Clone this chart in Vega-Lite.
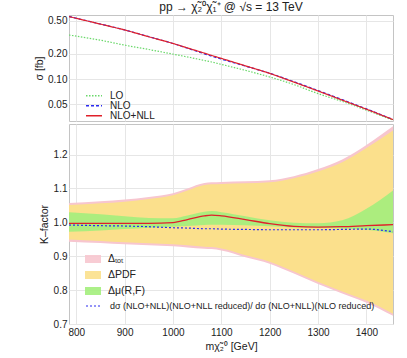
{
  "$schema": "https://vega.github.io/schema/vega-lite/v6.json",
  "padding": {"left": 34, "top": 0, "right": 14, "bottom": 5},
  "background": "white",
  "spacing": 1,
  "resolve": {"scale": {"color": "independent", "strokeDash": "independent", "stroke": "independent"}, "legend": {"color": "independent", "strokeDash": "independent", "stroke": "independent"}},
  "config": {
    "font": "Liberation Sans",
    "view": {"stroke": "#c4c4c4", "strokeWidth": 1},
    "axis": {"labelFontSize": 10, "titleFontSize": 10.5, "titleFontWeight": "normal", "labelColor": "#222", "titleColor": "#222", "gridColor": "#e6e6e6", "domain": false, "ticks": false, "labelPadding": 2, "labelOverlap": false},
    "legend": {"labelFont": "Liberation Sans", "labelFontSize": 10.5, "labelColor": "#222"}
  },
  "datasets": {
    "sigma": [
      {"m": 785, "series": "LO", "sigma": 0.337}, {"m": 850, "series": "LO", "sigma": 0.292}, {"m": 900, "series": "LO", "sigma": 0.255}, {"m": 950, "series": "LO", "sigma": 0.226}, {"m": 1000, "series": "LO", "sigma": 0.199}, {"m": 1030, "series": "LO", "sigma": 0.184}, {"m": 1065, "series": "LO", "sigma": 0.167}, {"m": 1080, "series": "LO", "sigma": 0.160}, {"m": 1100, "series": "LO", "sigma": 0.150}, {"m": 1150, "series": "LO", "sigma": 0.127}, {"m": 1200, "series": "LO", "sigma": 0.106}, {"m": 1250, "series": "LO", "sigma": 0.086}, {"m": 1300, "series": "LO", "sigma": 0.067}, {"m": 1350, "series": "LO", "sigma": 0.054}, {"m": 1400, "series": "LO", "sigma": 0.0425}, {"m": 1455, "series": "LO", "sigma": 0.0322},
      {"m": 785, "series": "NLO", "sigma": 0.562}, {"m": 850, "series": "NLO", "sigma": 0.456}, {"m": 900, "series": "NLO", "sigma": 0.388}, {"m": 950, "series": "NLO", "sigma": 0.322}, {"m": 1000, "series": "NLO", "sigma": 0.267}, {"m": 1030, "series": "NLO", "sigma": 0.234}, {"m": 1065, "series": "NLO", "sigma": 0.2007}, {"m": 1080, "series": "NLO", "sigma": 0.188}, {"m": 1100, "series": "NLO", "sigma": 0.1737}, {"m": 1150, "series": "NLO", "sigma": 0.1429}, {"m": 1200, "series": "NLO", "sigma": 0.1175}, {"m": 1250, "series": "NLO", "sigma": 0.0931}, {"m": 1300, "series": "NLO", "sigma": 0.073}, {"m": 1350, "series": "NLO", "sigma": 0.0567}, {"m": 1400, "series": "NLO", "sigma": 0.044}, {"m": 1455, "series": "NLO", "sigma": 0.0329},
      {"m": 785, "series": "NLO+NLL", "sigma": 0.56}, {"m": 850, "series": "NLO+NLL", "sigma": 0.455}, {"m": 900, "series": "NLO+NLL", "sigma": 0.387}, {"m": 950, "series": "NLO+NLL", "sigma": 0.321}, {"m": 1000, "series": "NLO+NLL", "sigma": 0.267}, {"m": 1030, "series": "NLO+NLL", "sigma": 0.236}, {"m": 1065, "series": "NLO+NLL", "sigma": 0.2045}, {"m": 1080, "series": "NLO+NLL", "sigma": 0.192}, {"m": 1100, "series": "NLO+NLL", "sigma": 0.177}, {"m": 1150, "series": "NLO+NLL", "sigma": 0.144}, {"m": 1200, "series": "NLO+NLL", "sigma": 0.117}, {"m": 1250, "series": "NLO+NLL", "sigma": 0.092}, {"m": 1300, "series": "NLO+NLL", "sigma": 0.072}, {"m": 1350, "series": "NLO+NLL", "sigma": 0.056}, {"m": 1400, "series": "NLO+NLL", "sigma": 0.0436}, {"m": 1455, "series": "NLO+NLL", "sigma": 0.0327}
    ],
    "k": [
      {"m": 785, "tot_lo": 0.943, "tot_hi": 1.057, "pdf_lo": 0.949, "pdf_hi": 1.051, "mu_lo": 0.972, "mu_hi": 1.030, "k": 0.997, "r": 0.992},
      {"m": 850, "tot_lo": 0.939, "tot_hi": 1.062, "pdf_lo": 0.945, "pdf_hi": 1.056, "mu_lo": 0.976, "mu_hi": 1.024, "k": 0.997, "r": 0.990},
      {"m": 900, "tot_lo": 0.935, "tot_hi": 1.067, "pdf_lo": 0.941, "pdf_hi": 1.061, "mu_lo": 0.980, "mu_hi": 1.018, "k": 0.997, "r": 0.989},
      {"m": 950, "tot_lo": 0.932, "tot_hi": 1.075, "pdf_lo": 0.938, "pdf_hi": 1.069, "mu_lo": 0.984, "mu_hi": 1.013, "k": 0.997, "r": 0.987},
      {"m": 1000, "tot_lo": 0.929, "tot_hi": 1.086, "pdf_lo": 0.935, "pdf_hi": 1.080, "mu_lo": 0.987, "mu_hi": 1.012, "k": 0.999, "r": 0.984},
      {"m": 1030, "tot_lo": 0.926, "tot_hi": 1.100, "pdf_lo": 0.932, "pdf_hi": 1.094, "mu_lo": 0.989, "mu_hi": 1.020, "k": 1.008, "r": 0.983},
      {"m": 1065, "tot_lo": 0.922, "tot_hi": 1.116, "pdf_lo": 0.928, "pdf_hi": 1.110, "mu_lo": 0.992, "mu_hi": 1.031, "k": 1.019, "r": 0.981},
      {"m": 1080, "tot_lo": 0.921, "tot_hi": 1.118, "pdf_lo": 0.927, "pdf_hi": 1.112, "mu_lo": 0.993, "mu_hi": 1.033, "k": 1.021, "r": 0.981},
      {"m": 1100, "tot_lo": 0.917, "tot_hi": 1.119, "pdf_lo": 0.923, "pdf_hi": 1.113, "mu_lo": 0.993, "mu_hi": 1.030, "k": 1.019, "r": 0.980},
      {"m": 1150, "tot_lo": 0.897, "tot_hi": 1.121, "pdf_lo": 0.903, "pdf_hi": 1.115, "mu_lo": 0.991, "mu_hi": 1.018, "k": 1.008, "r": 0.979},
      {"m": 1200, "tot_lo": 0.878, "tot_hi": 1.124, "pdf_lo": 0.884, "pdf_hi": 1.118, "mu_lo": 0.988, "mu_hi": 1.006, "k": 0.996, "r": 0.978},
      {"m": 1250, "tot_lo": 0.849, "tot_hi": 1.136, "pdf_lo": 0.855, "pdf_hi": 1.130, "mu_lo": 0.985, "mu_hi": 0.999, "k": 0.988, "r": 0.978},
      {"m": 1300, "tot_lo": 0.818, "tot_hi": 1.157, "pdf_lo": 0.824, "pdf_hi": 1.150, "mu_lo": 0.984, "mu_hi": 0.997, "k": 0.986, "r": 0.978},
      {"m": 1350, "tot_lo": 0.790, "tot_hi": 1.185, "pdf_lo": 0.796, "pdf_hi": 1.177, "mu_lo": 0.982, "mu_hi": 1.006, "k": 0.987, "r": 0.979},
      {"m": 1400, "tot_lo": 0.763, "tot_hi": 1.228, "pdf_lo": 0.769, "pdf_hi": 1.219, "mu_lo": 0.978, "mu_hi": 1.040, "k": 0.990, "r": 0.980},
      {"m": 1455, "tot_lo": 0.724, "tot_hi": 1.283, "pdf_lo": 0.730, "pdf_hi": 1.271, "mu_lo": 0.968, "mu_hi": 1.094, "k": 0.993, "r": 0.972}
    ]
  },
  "vconcat": [
    {
      "width": 324,
      "height": 106,
      "title": {"text": "pp → χ̃₂⁰χ̃₁⁺ @ √s = 13 TeV", "fontSize": 12, "font": "Liberation Sans", "fontWeight": "normal", "color": "#222", "offset": 1},
      "data": {"name": "sigma"},
      "mark": {"type": "line", "strokeWidth": 1.2, "interpolate": "monotone", "clip": true},
      "encoding": {
        "x": {"field": "m", "type": "quantitative", "scale": {"domain": [785, 1455], "nice": false, "zero": false}, "axis": {"labels": false, "title": null, "values": [800, 900, 1000, 1100, 1200, 1300, 1400]}},
        "y": {"field": "sigma", "type": "quantitative", "scale": {"type": "log", "domain": [0.0315, 0.585], "nice": false}, "axis": {"values": [0.05, 0.1, 0.2, 0.5], "format": ".2f", "title": "σ  [fb]", "titlePadding": 3}},
        "color": {"field": "series", "type": "nominal", "scale": {"domain": ["LO", "NLO", "NLO+NLL"], "range": ["#6ad86a", "#2a2af0", "#e0202a"]}, "legend": {"orient": "none", "legendX": 16, "legendY": 76, "title": null, "symbolType": "stroke", "symbolSize": 256, "symbolStrokeWidth": 1.5, "labelOffset": 7, "labelFontSize": 10, "rowPadding": -3, "clipHeight": 9.3}},
        "strokeDash": {"field": "series", "type": "nominal", "scale": {"domain": ["LO", "NLO", "NLO+NLL"], "range": [[1.5, 1.5], [3, 2], [1, 0]]}, "legend": {"orient": "none", "legendX": 16, "legendY": 76, "title": null, "symbolType": "stroke", "symbolSize": 256, "symbolStrokeWidth": 1.5, "labelOffset": 7, "labelFontSize": 10, "rowPadding": -3, "clipHeight": 9.3}}
      }
    },
    {
      "width": 324,
      "height": 200,
      "data": {"name": "k"},
      "encoding": {
        "x": {"field": "m", "type": "quantitative", "scale": {"domain": [785, 1455], "nice": false, "zero": false}, "axis": {"values": [800, 900, 1000, 1100, 1200, 1300, 1400], "format": "d", "title": "mχ̃₂⁰  [GeV]", "titlePadding": 4, "labelPadding": 3}},
        "y": {"type": "quantitative", "scale": {"domain": [0.7, 1.29], "nice": false, "zero": false}, "axis": {"values": [0.7, 0.8, 0.9, 1.0, 1.1, 1.2], "format": ".1f", "title": "K–factor", "titlePadding": 4, "labelOverlap": false, "labelBound": false}}
      },
      "layer": [
        {
          "mark": {"type": "area", "interpolate": "monotone", "clip": true},
          "encoding": {
            "y": {"field": "tot_lo", "type": "quantitative"},
            "y2": {"field": "tot_hi"},
            "color": {"datum": "Δₜₒₜ", "scale": {"domain": ["Δₜₒₜ", "ΔPDF", "Δμ(R,F)"], "range": ["#f7c6cf", "#fbe08c", "#a3ee7c"]}, "legend": {"orient": "none", "legendX": 16, "legendY": 127, "title": null, "symbolType": "M-1,-0.5H1V0.5H-1Z", "symbolSize": 256, "symbolStrokeWidth": 0, "labelOffset": 7, "rowPadding": 0, "clipHeight": 16}}
          }
        },
        {
          "mark": {"type": "area", "interpolate": "monotone", "clip": true},
          "encoding": {
            "y": {"field": "pdf_lo", "type": "quantitative"},
            "y2": {"field": "pdf_hi"},
            "color": {"datum": "ΔPDF"}
          }
        },
        {
          "mark": {"type": "area", "interpolate": "monotone", "clip": true, "opacity": 0.9},
          "encoding": {
            "y": {"field": "mu_lo", "type": "quantitative"},
            "y2": {"field": "mu_hi"},
            "color": {"datum": "Δμ(R,F)"}
          }
        },
        {
          "mark": {"type": "line", "interpolate": "monotone", "color": "#e0202a", "strokeWidth": 1.3, "clip": true},
          "encoding": {
            "y": {"field": "k", "type": "quantitative"}
          }
        },
        {
          "mark": {"type": "line", "interpolate": "monotone", "strokeWidth": 1.2, "strokeDash": [2, 2], "clip": true},
          "encoding": {
            "y": {"field": "r", "type": "quantitative"},
            "stroke": {"datum": "dσ (NLO+NLL)(NLO+NLL reduced)/ dσ (NLO+NLL)(NLO reduced)", "scale": {"range": ["#2a2af0"]}, "legend": {"orient": "none", "legendX": 16, "legendY": 173, "title": null, "symbolType": "stroke", "symbolSize": 256, "symbolStrokeWidth": 1.2, "symbolDash": [2, 2], "labelOffset": 7, "labelFontSize": 9, "labelLimit": 400}}
          }
        }
      ]
    }
  ]
}
